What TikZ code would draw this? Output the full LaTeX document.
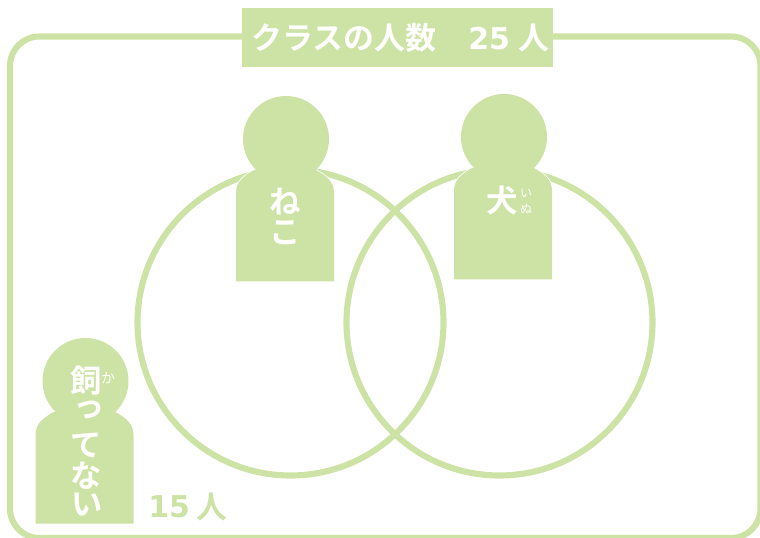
\documentclass[tikz,border=0pt]{standalone}
\usepackage{fontspec}
\setmainfont{DejaVu Sans}
\newfontfamily\cjk{Noto Sans CJK JP}
\newfontfamily\cjkb{Noto Sans CJK JP Bold}
\definecolor{lg}{HTML}{CDE3A5}
\newcommand{\pxfs}[1]{\fontsize{#1}{#1}\selectfont}
\tikzset{
  x=0.75pt,y=-0.75pt,
  ring/.style={draw=lg,line width=4.6pt},
  big/.style={text=white,inner sep=0pt,font=\cjkb\pxfs{23.5}},
  small/.style={text=white,inner sep=0pt,font=\cjk\pxfs{10.5}},
  title/.style={text=white,inner sep=0pt,font=\cjkb\pxfs{23.2}},
  num/.style={inner sep=0pt,font=\bfseries\pxfs{22.5}}
}
\newcommand{\bodypath}[2]{(#1-50,#2+54) -- (#1-50,#2+142.5) -- (#1+48,#2+142.5) -- (#1+48,#2+54)
     .. controls (#1+48,#2+42) and (#1+40,#2+37) .. (#1+30,#2+31)
     -- (#1-32,#2+31)
     .. controls (#1-42,#2+37) and (#1-50,#2+42) .. (#1-50,#2+54) -- cycle}
\newcommand{\person}[2]{%
  \path[draw=white,line width=1.2pt] \bodypath{#1}{#2};
  \path[fill=lg] \bodypath{#1}{#2};
  \path[fill=lg] (#1,#2) circle[radius=43];
}
\begin{document}
\begin{tikzpicture}
\useasboundingbox (0,0) rectangle (760,538);
\draw[ring,rounded corners=22pt] (10,36.5) rectangle (760.5,538);
\node[fill=lg,minimum width=233.5pt,minimum height=44.5pt,inner sep=0pt] (titlebox) at (397.5,37.5) {};
\node[title,anchor=base west] (t1) at (251,50) {クラスの人数};
\node[num,text=white,anchor=base west] (t2) at (468,50) {25};
\node[title,anchor=base west] (t3) at (518,50) {人};
\draw[ring] (290.5,322.5) circle[radius=153];
\draw[ring] (499.5,322.5) circle[radius=153];
\person{286}{139}
\person{504}{137}
\person{85.5}{381}
\node[big] (a1) at (285,202) {ね};
\node[big] (a2) at (285,233) {こ};
\node[big] (b1) at (502,201) {犬};
\node[small,font=\cjk\pxfs{9}] (b2) at (526,193) {い};
\node[small,font=\cjk\pxfs{9}] (b3) at (526,209) {ぬ};
\node[big] (c1) at (86.5,381) {飼};
\node[small] (c2) at (108,378) {か};
\node[big] (c3) at (89,410) {っ};
\node[big] (c4) at (86,445) {て};
\node[big] (c5) at (86,476) {な};
\node[big] (c6) at (87,505) {い};
\node[num,text=lg,anchor=base west] (n1) at (148,517.5) {15};
\node[title,text=lg,anchor=base west] (n2) at (196,518) {人};
\end{tikzpicture}
\end{document}
